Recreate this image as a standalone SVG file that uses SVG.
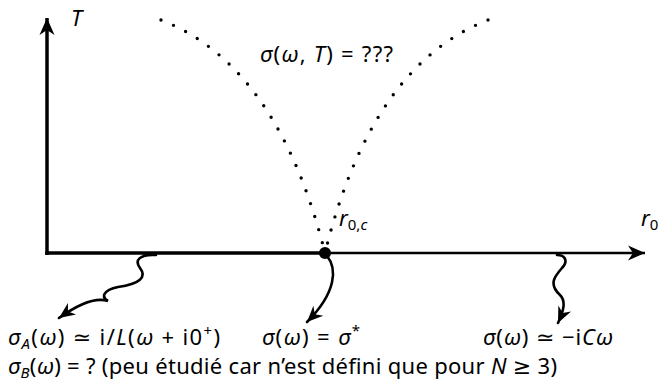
<svg xmlns="http://www.w3.org/2000/svg" width="665" height="383" viewBox="0 0 665 383">
<style>
.t{font-family:"Noto Sans","DejaVu Sans",sans-serif;font-size:22px;fill:#000}
.i{font-style:italic}
.s{font-size:15px}
.ax{fill:none;stroke:#000;stroke-width:3.5}
.thin{fill:none;stroke:#000;stroke-width:2.5}
.wv{fill:none;stroke:#000;stroke-width:2.6;stroke-linecap:round}
.dot{fill:none;stroke:#000;stroke-width:3.4;stroke-linecap:round;stroke-dasharray:0 13.6}
</style>
<defs>
<marker id="ah" markerUnits="userSpaceOnUse" viewBox="-18 -9 20 18" markerWidth="20" markerHeight="18" refX="0" refY="0" orient="auto">
<path d="M0,0 L-17,-7.5 L-12,0 L-17,7.5 Z" fill="#000"/>
</marker>
<marker id="wh" markerUnits="userSpaceOnUse" viewBox="-17 -8 19 16" markerWidth="19" markerHeight="16" refX="0" refY="0" orient="auto">
<path d="M0,0 L-16,-7 L-11,0 L-16,7 Z" fill="#000"/>
</marker>
</defs>
<g id="connectors">
<path class="ax" d="M47,255 V18" marker-end="url(#ah)"/>
<path class="ax" d="M45.3,253 H325"/>
<path class="thin" d="M325,253 H645" marker-end="url(#ah)"/>
<path class="dot" d="M161,20 Q277.8,65.3 325,253"/>
<path class="dot" d="M488,20 Q371.2,65.3 325,253"/>
<path class="wv" d="M156,255 C140,254 134,260 140,268 C147,277 140,284 118,287 C103,290 101,297 108,301 C96,297 80,303 59,318" marker-end="url(#wh)"/>
<path class="wv" d="M327,256 C337,268 337,292 307,322" marker-end="url(#wh)"/>
<path class="wv" d="M557,255 C566,255 568,262 562,268 C555,276 548,284 560,295 C566,301 564,310 558,323" marker-end="url(#wh)"/>
</g>
<g id="critical-point">
<circle cx="325" cy="253" r="6" fill="#000"/>
<text class="t" x="339" y="226"><tspan class="i">r</tspan><tspan class="s" dy="4">0,<tspan class="i">c</tspan></tspan></text>
</g>
<g id="axis-labels">
<text class="t i" x="71" y="26">T</text>
<text class="t" x="641" y="226"><tspan class="i">r</tspan><tspan class="s" dy="4">0</tspan></text>
</g>
<g id="unknown-region">
<text class="t" x="260" y="62" textLength="133"><tspan class="i">σ</tspan>(<tspan class="i">ω</tspan>, <tspan class="i">T</tspan>) = ???</text>
</g>
<g id="phase-A-B">
<text class="t" x="8" y="345" textLength="212"><tspan class="i">σ</tspan><tspan class="s i" dy="4">A</tspan><tspan dy="-4">(</tspan><tspan class="i">ω</tspan>) ≃ i/<tspan class="i">L</tspan>(<tspan class="i">ω</tspan> + i0<tspan class="s" dy="-9">+</tspan><tspan dy="9">)</tspan></text>
<text class="t" x="8" y="374" textLength="549"><tspan class="i">σ</tspan><tspan class="s i" dy="4">B</tspan><tspan dy="-4">(</tspan><tspan class="i">ω</tspan>) = ? (peu étudié car n’est défini que pour <tspan class="i">N</tspan> ≥ 3)</text>
</g>
<g id="critical-value">
<text class="t" x="262" y="345" textLength="98"><tspan class="i">σ</tspan>(<tspan class="i">ω</tspan>) = <tspan class="i">σ</tspan><tspan class="s" dy="-9">*</tspan></text>
</g>
<g id="phase-C">
<text class="t" x="483" y="345" textLength="130"><tspan class="i">σ</tspan>(<tspan class="i">ω</tspan>) ≃ −i<tspan class="i">C</tspan><tspan class="i">ω</tspan></text>
</g>
</svg>
